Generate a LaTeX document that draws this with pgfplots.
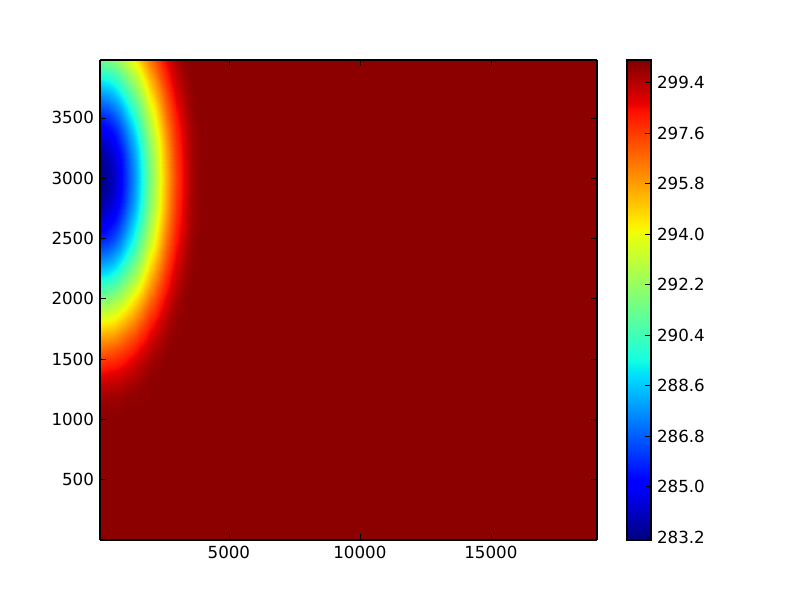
\documentclass[border=0pt]{standalone}
\usepackage{fontspec}
\setmainfont{DejaVu Sans}
\usepackage{pgfplots}
\pgfplotsset{compat=1.18}
\pgfplotsset{colormap={mpljet}{
 rgb(0)=(0,0,.5); rgb(110)=(0,0,1); rgb(125)=(0,0,1); rgb(340)=(0,.86,1); rgb(350)=(0,.9,.97);
 rgb(375)=(.08,1,.887); rgb(640)=(.935,1,.032); rgb(650)=(.968,.964,0); rgb(660)=(1,.926,0);
 rgb(890)=(1,.074,0); rgb(910)=(.909,0,0); rgb(1000)=(.5,0,0)}}
\begin{document}
\begin{tikzpicture}
\useasboundingbox (-75pt,-45pt) rectangle (525pt,405pt);
\begin{axis}[
  at={(0,0)}, anchor=south west,
  scale only axis, width=372.75pt, height=360pt,
  view={0}{90},
  xmin=80, xmax=19050, ymin=0, ymax=3980,
  xtick={5000,10000,15000}, ytick={500,1000,1500,2000,2500,3000,3500},
  scaled x ticks=false, scaled y ticks=false,
  tick align=inside, major tick length=4.2pt,
  axis line style={line width=1pt}, tick style={line width=0.5pt,black},
  axis on top,
  font=\fontsize{12.5}{15}\selectfont,
  /pgf/number format/assume math mode=true,
  /pgf/number format/set thousands separator={},
  xticklabel style={yshift=-1pt}, yticklabel style={xshift=-1pt},
  point meta min=283.1, point meta max=300.2,
  colormap name=mpljet,
  colorbar,
  colorbar/width=18pt,
  colorbar style={
    at={(1.0604,1)}, anchor=north west,
    width=18pt, height=360pt,
    ytick={283.2,285.0,286.8,288.6,290.4,292.2,294.0,295.8,297.6,299.4},
    ytick pos=right, yticklabel pos=right,
    tick align=inside, major tick length=4.2pt,
    axis line style={line width=1pt}, tick style={line width=0.5pt,black},
    yticklabel style={font=\fontsize{12.5}{15}\selectfont,/pgf/number format/fixed,/pgf/number format/fixed zerofill,/pgf/number format/precision=1,/pgf/number format/assume math mode=true,xshift=1pt},
  },
]
\addplot3[surf, shader=interp, mesh/cols=22] coordinates {
(0,0,300)(200,0,300)(400,0,300)(600,0,300)(800,0,300)(1000,0,300)(1200,0,300)(1400,0,300)(1600,0,300)(1800,0,300)(2000,0,300)(2200,0,300)(2400,0,300)(2600,0,300)(2800,0,300)(3000,0,300)(3200,0,300)(3400,0,300)(3600,0,300)(3800,0,300)(4000,0,300)(19100,0,300)
(0,1000,300)(200,1000,300)(400,1000,300)(600,1000,300)(800,1000,300)(1000,1000,300)(1200,1000,300)(1400,1000,300)(1600,1000,300)(1800,1000,300)(2000,1000,300)(2200,1000,300)(2400,1000,300)(2600,1000,300)(2800,1000,300)(3000,1000,300)(3200,1000,300)(3400,1000,300)(3600,1000,300)(3800,1000,300)(4000,1000,300)(19100,1000,300)
(0,1100,299.9)(200,1100,299.9)(400,1100,299.9)(600,1100,299.9)(800,1100,299.9)(1000,1100,300)(1200,1100,300)(1400,1100,300)(1600,1100,300)(1800,1100,300)(2000,1100,300)(2200,1100,300)(2400,1100,300)(2600,1100,300)(2800,1100,300)(3000,1100,300)(3200,1100,300)(3400,1100,300)(3600,1100,300)(3800,1100,300)(4000,1100,300)(19100,1100,300)
(0,1200,299.6)(200,1200,299.6)(400,1200,299.7)(600,1200,299.7)(800,1200,299.7)(1000,1200,299.8)(1200,1200,299.9)(1400,1200,299.9)(1600,1200,300)(1800,1200,300)(2000,1200,300)(2200,1200,300)(2400,1200,300)(2600,1200,300)(2800,1200,300)(3000,1200,300)(3200,1200,300)(3400,1200,300)(3600,1200,300)(3800,1200,300)(4000,1200,300)(19100,1200,300)
(0,1300,299.1)(200,1300,299.1)(400,1300,299.2)(600,1300,299.2)(800,1300,299.3)(1000,1300,299.4)(1200,1300,299.6)(1400,1300,299.7)(1600,1300,299.8)(1800,1300,299.9)(2000,1300,300)(2200,1300,300)(2400,1300,300)(2600,1300,300)(2800,1300,300)(3000,1300,300)(3200,1300,300)(3400,1300,300)(3600,1300,300)(3800,1300,300)(4000,1300,300)(19100,1300,300)
(0,1400,298.4)(200,1400,298.4)(400,1400,298.5)(600,1400,298.6)(800,1400,298.7)(1000,1400,298.9)(1200,1400,299.1)(1400,1400,299.3)(1600,1400,299.5)(1800,1400,299.7)(2000,1400,299.9)(2200,1400,299.9)(2400,1400,300)(2600,1400,300)(2800,1400,300)(3000,1400,300)(3200,1400,300)(3400,1400,300)(3600,1400,300)(3800,1400,300)(4000,1400,300)(19100,1400,300)
(0,1500,297.5)(200,1500,297.6)(400,1500,297.7)(600,1500,297.8)(800,1500,298.0)(1000,1500,298.2)(1200,1500,298.5)(1400,1500,298.8)(1600,1500,299.1)(1800,1500,299.3)(2000,1500,299.6)(2200,1500,299.8)(2400,1500,299.9)(2600,1500,300)(2800,1500,300)(3000,1500,300)(3200,1500,300)(3400,1500,300)(3600,1500,300)(3800,1500,300)(4000,1500,300)(19100,1500,300)
(0,1600,296.5)(200,1600,296.6)(400,1600,296.7)(600,1600,296.9)(800,1600,297.1)(1000,1600,297.4)(1200,1600,297.7)(1400,1600,298.1)(1600,1600,298.5)(1800,1600,298.8)(2000,1600,299.2)(2200,1600,299.5)(2400,1600,299.7)(2600,1600,299.9)(2800,1600,300)(3000,1600,300)(3200,1600,300)(3400,1600,300)(3600,1600,300)(3800,1600,300)(4000,1600,300)(19100,1600,300)
(0,1700,295.4)(200,1700,295.5)(400,1700,295.6)(600,1700,295.8)(800,1700,296.1)(1000,1700,296.5)(1200,1700,296.9)(1400,1700,297.3)(1600,1700,297.8)(1800,1700,298.2)(2000,1700,298.7)(2200,1700,299.1)(2400,1700,299.4)(2600,1700,299.7)(2800,1700,299.9)(3000,1700,300)(3200,1700,300)(3400,1700,300)(3600,1700,300)(3800,1700,300)(4000,1700,300)(19100,1700,300)
(0,1800,294.2)(200,1800,294.3)(400,1800,294.4)(600,1800,294.6)(800,1800,295.0)(1000,1800,295.4)(1200,1800,295.9)(1400,1800,296.4)(1600,1800,297.0)(1800,1800,297.5)(2000,1800,298.1)(2200,1800,298.6)(2400,1800,299.1)(2600,1800,299.4)(2800,1800,299.7)(3000,1800,299.9)(3200,1800,300)(3400,1800,300)(3600,1800,300)(3800,1800,300)(4000,1800,300)(19100,1800,300)
(0,1900,292.9)(200,1900,293.0)(400,1900,293.1)(600,1900,293.4)(800,1900,293.8)(1000,1900,294.3)(1200,1900,294.8)(1400,1900,295.5)(1600,1900,296.1)(1800,1900,296.8)(2000,1900,297.4)(2200,1900,298.0)(2400,1900,298.6)(2600,1900,299.1)(2800,1900,299.5)(3000,1900,299.8)(3200,1900,299.9)(3400,1900,300)(3600,1900,300)(3800,1900,300)(4000,1900,300)(19100,1900,300)
(0,2000,291.6)(200,2000,291.7)(400,2000,291.9)(600,2000,292.2)(800,2000,292.6)(1000,2000,293.1)(1200,2000,293.8)(1400,2000,294.5)(1600,2000,295.2)(1800,2000,295.9)(2000,2000,296.7)(2200,2000,297.4)(2400,2000,298.1)(2600,2000,298.7)(2800,2000,299.2)(3000,2000,299.6)(3200,2000,299.9)(3400,2000,300)(3600,2000,300)(3800,2000,300)(4000,2000,300)(19100,2000,300)
(0,2100,290.3)(200,2100,290.4)(400,2100,290.6)(600,2100,290.9)(800,2100,291.4)(1000,2100,292.0)(1200,2100,292.7)(1400,2100,293.4)(1600,2100,294.2)(1800,2100,295.1)(2000,2100,295.9)(2200,2100,296.8)(2400,2100,297.5)(2600,2100,298.2)(2800,2100,298.8)(3000,2100,299.3)(3200,2100,299.7)(3400,2100,299.9)(3600,2100,300)(3800,2100,300)(4000,2100,300)(19100,2100,300)
(0,2200,289.0)(200,2200,289.1)(400,2200,289.3)(600,2200,289.7)(800,2200,290.2)(1000,2200,290.9)(1200,2200,291.6)(1400,2200,292.4)(1600,2200,293.3)(1800,2200,294.2)(2000,2200,295.2)(2200,2200,296.1)(2400,2200,297.0)(2600,2200,297.8)(2800,2200,298.5)(3000,2200,299.1)(3200,2200,299.5)(3400,2200,299.8)(3600,2200,300)(3800,2200,300)(4000,2200,300)(19100,2200,300)
(0,2300,287.8)(200,2300,287.9)(400,2300,288.1)(600,2300,288.5)(800,2300,289.1)(1000,2300,289.8)(1200,2300,290.6)(1400,2300,291.5)(1600,2300,292.4)(1800,2300,293.4)(2000,2300,294.5)(2200,2300,295.5)(2400,2300,296.4)(2600,2300,297.3)(2800,2300,298.1)(3000,2300,298.8)(3200,2300,299.3)(3400,2300,299.7)(3600,2300,299.9)(3800,2300,300)(4000,2300,300)(19100,2300,300)
(0,2400,286.7)(200,2400,286.8)(400,2400,287.0)(600,2400,287.5)(800,2400,288.0)(1000,2400,288.8)(1200,2400,289.6)(1400,2400,290.6)(1600,2400,291.6)(1800,2400,292.7)(2000,2400,293.8)(2200,2400,294.8)(2400,2400,295.9)(2600,2400,296.9)(2800,2400,297.7)(3000,2400,298.5)(3200,2400,299.1)(3400,2400,299.6)(3600,2400,299.9)(3800,2400,300)(4000,2400,300)(19100,2400,300)
(0,2500,285.7)(200,2500,285.8)(400,2500,286.0)(600,2500,286.5)(800,2500,287.1)(1000,2500,287.9)(1200,2500,288.8)(1400,2500,289.8)(1600,2500,290.9)(1800,2500,292.0)(2000,2500,293.1)(2200,2500,294.3)(2400,2500,295.4)(2600,2500,296.5)(2800,2500,297.4)(3000,2500,298.2)(3200,2500,298.9)(3400,2500,299.4)(3600,2500,299.8)(3800,2500,300)(4000,2500,300)(19100,2500,300)
(0,2600,284.8)(200,2600,284.9)(400,2600,285.2)(600,2600,285.7)(800,2600,286.3)(1000,2600,287.1)(1200,2600,288.0)(1400,2600,289.1)(1600,2600,290.2)(1800,2600,291.4)(2000,2600,292.6)(2200,2600,293.8)(2400,2600,295.0)(2600,2600,296.1)(2800,2600,297.1)(3000,2600,298.0)(3200,2600,298.7)(3400,2600,299.3)(3600,2600,299.7)(3800,2600,299.9)(4000,2600,300)(19100,2600,300)
(0,2700,284.1)(200,2700,284.2)(400,2700,284.5)(600,2700,285.0)(800,2700,285.7)(1000,2700,286.5)(1200,2700,287.5)(1400,2700,288.5)(1600,2700,289.7)(1800,2700,290.9)(2000,2700,292.2)(2200,2700,293.4)(2400,2700,294.6)(2600,2700,295.8)(2800,2700,296.9)(3000,2700,297.8)(3200,2700,298.6)(3400,2700,299.2)(3600,2700,299.7)(3800,2700,299.9)(4000,2700,300)(19100,2700,300)
(0,2800,283.6)(200,2800,283.7)(400,2800,284.0)(600,2800,284.5)(800,2800,285.2)(1000,2800,286.0)(1200,2800,287.0)(1400,2800,288.1)(1600,2800,289.3)(1800,2800,290.6)(2000,2800,291.9)(2200,2800,293.1)(2400,2800,294.4)(2600,2800,295.6)(2800,2800,296.7)(3000,2800,297.7)(3200,2800,298.5)(3400,2800,299.2)(3600,2800,299.7)(3800,2800,299.9)(4000,2800,300)(19100,2800,300)
(0,2900,283.3)(200,2900,283.4)(400,2900,283.7)(600,2900,284.2)(800,2900,284.9)(1000,2900,285.8)(1200,2900,286.8)(1400,2900,287.9)(1600,2900,289.1)(1800,2900,290.4)(2000,2900,291.7)(2200,2900,293.0)(2400,2900,294.3)(2600,2900,295.5)(2800,2900,296.6)(3000,2900,297.6)(3200,2900,298.4)(3400,2900,299.1)(3600,2900,299.6)(3800,2900,299.9)(4000,2900,300)(19100,2900,300)
(0,3000,283.2)(200,3000,283.3)(400,3000,283.6)(600,3000,284.1)(800,3000,284.8)(1000,3000,285.7)(1200,3000,286.7)(1400,3000,287.8)(1600,3000,289.0)(1800,3000,290.3)(2000,3000,291.6)(2200,3000,292.9)(2400,3000,294.2)(2600,3000,295.4)(2800,3000,296.5)(3000,3000,297.5)(3200,3000,298.4)(3400,3000,299.1)(3600,3000,299.6)(3800,3000,299.9)(4000,3000,300)(19100,3000,300)
(0,3100,283.3)(200,3100,283.4)(400,3100,283.7)(600,3100,284.2)(800,3100,284.9)(1000,3100,285.8)(1200,3100,286.8)(1400,3100,287.9)(1600,3100,289.1)(1800,3100,290.4)(2000,3100,291.7)(2200,3100,293.0)(2400,3100,294.3)(2600,3100,295.5)(2800,3100,296.6)(3000,3100,297.6)(3200,3100,298.4)(3400,3100,299.1)(3600,3100,299.6)(3800,3100,299.9)(4000,3100,300)(19100,3100,300)
(0,3200,283.6)(200,3200,283.7)(400,3200,284.0)(600,3200,284.5)(800,3200,285.2)(1000,3200,286.0)(1200,3200,287.0)(1400,3200,288.1)(1600,3200,289.3)(1800,3200,290.6)(2000,3200,291.9)(2200,3200,293.1)(2400,3200,294.4)(2600,3200,295.6)(2800,3200,296.7)(3000,3200,297.7)(3200,3200,298.5)(3400,3200,299.2)(3600,3200,299.7)(3800,3200,299.9)(4000,3200,300)(19100,3200,300)
(0,3300,284.1)(200,3300,284.2)(400,3300,284.5)(600,3300,285.0)(800,3300,285.7)(1000,3300,286.5)(1200,3300,287.5)(1400,3300,288.5)(1600,3300,289.7)(1800,3300,290.9)(2000,3300,292.2)(2200,3300,293.4)(2400,3300,294.6)(2600,3300,295.8)(2800,3300,296.9)(3000,3300,297.8)(3200,3300,298.6)(3400,3300,299.2)(3600,3300,299.7)(3800,3300,299.9)(4000,3300,300)(19100,3300,300)
(0,3400,284.8)(200,3400,284.9)(400,3400,285.2)(600,3400,285.7)(800,3400,286.3)(1000,3400,287.1)(1200,3400,288.0)(1400,3400,289.1)(1600,3400,290.2)(1800,3400,291.4)(2000,3400,292.6)(2200,3400,293.8)(2400,3400,295.0)(2600,3400,296.1)(2800,3400,297.1)(3000,3400,298.0)(3200,3400,298.7)(3400,3400,299.3)(3600,3400,299.7)(3800,3400,299.9)(4000,3400,300)(19100,3400,300)
(0,3500,285.7)(200,3500,285.8)(400,3500,286.0)(600,3500,286.5)(800,3500,287.1)(1000,3500,287.9)(1200,3500,288.8)(1400,3500,289.8)(1600,3500,290.9)(1800,3500,292.0)(2000,3500,293.1)(2200,3500,294.3)(2400,3500,295.4)(2600,3500,296.5)(2800,3500,297.4)(3000,3500,298.2)(3200,3500,298.9)(3400,3500,299.4)(3600,3500,299.8)(3800,3500,300)(4000,3500,300)(19100,3500,300)
(0,3600,286.7)(200,3600,286.8)(400,3600,287.0)(600,3600,287.5)(800,3600,288.0)(1000,3600,288.8)(1200,3600,289.6)(1400,3600,290.6)(1600,3600,291.6)(1800,3600,292.7)(2000,3600,293.8)(2200,3600,294.8)(2400,3600,295.9)(2600,3600,296.9)(2800,3600,297.7)(3000,3600,298.5)(3200,3600,299.1)(3400,3600,299.6)(3600,3600,299.9)(3800,3600,300)(4000,3600,300)(19100,3600,300)
(0,3700,287.8)(200,3700,287.9)(400,3700,288.1)(600,3700,288.5)(800,3700,289.1)(1000,3700,289.8)(1200,3700,290.6)(1400,3700,291.5)(1600,3700,292.4)(1800,3700,293.4)(2000,3700,294.5)(2200,3700,295.5)(2400,3700,296.4)(2600,3700,297.3)(2800,3700,298.1)(3000,3700,298.8)(3200,3700,299.3)(3400,3700,299.7)(3600,3700,299.9)(3800,3700,300)(4000,3700,300)(19100,3700,300)
(0,3800,289.0)(200,3800,289.1)(400,3800,289.3)(600,3800,289.7)(800,3800,290.2)(1000,3800,290.9)(1200,3800,291.6)(1400,3800,292.4)(1600,3800,293.3)(1800,3800,294.2)(2000,3800,295.2)(2200,3800,296.1)(2400,3800,297.0)(2600,3800,297.8)(2800,3800,298.5)(3000,3800,299.1)(3200,3800,299.5)(3400,3800,299.8)(3600,3800,300)(3800,3800,300)(4000,3800,300)(19100,3800,300)
(0,3900,290.3)(200,3900,290.4)(400,3900,290.6)(600,3900,290.9)(800,3900,291.4)(1000,3900,292.0)(1200,3900,292.7)(1400,3900,293.4)(1600,3900,294.2)(1800,3900,295.1)(2000,3900,295.9)(2200,3900,296.8)(2400,3900,297.5)(2600,3900,298.2)(2800,3900,298.8)(3000,3900,299.3)(3200,3900,299.7)(3400,3900,299.9)(3600,3900,300)(3800,3900,300)(4000,3900,300)(19100,3900,300)
(0,4000,291.6)(200,4000,291.7)(400,4000,291.9)(600,4000,292.2)(800,4000,292.6)(1000,4000,293.1)(1200,4000,293.8)(1400,4000,294.5)(1600,4000,295.2)(1800,4000,295.9)(2000,4000,296.7)(2200,4000,297.4)(2400,4000,298.1)(2600,4000,298.7)(2800,4000,299.2)(3000,4000,299.6)(3200,4000,299.9)(3400,4000,300)(3600,4000,300)(3800,4000,300)(4000,4000,300)(19100,4000,300)
};
\end{axis}
\end{tikzpicture}
\end{document}
